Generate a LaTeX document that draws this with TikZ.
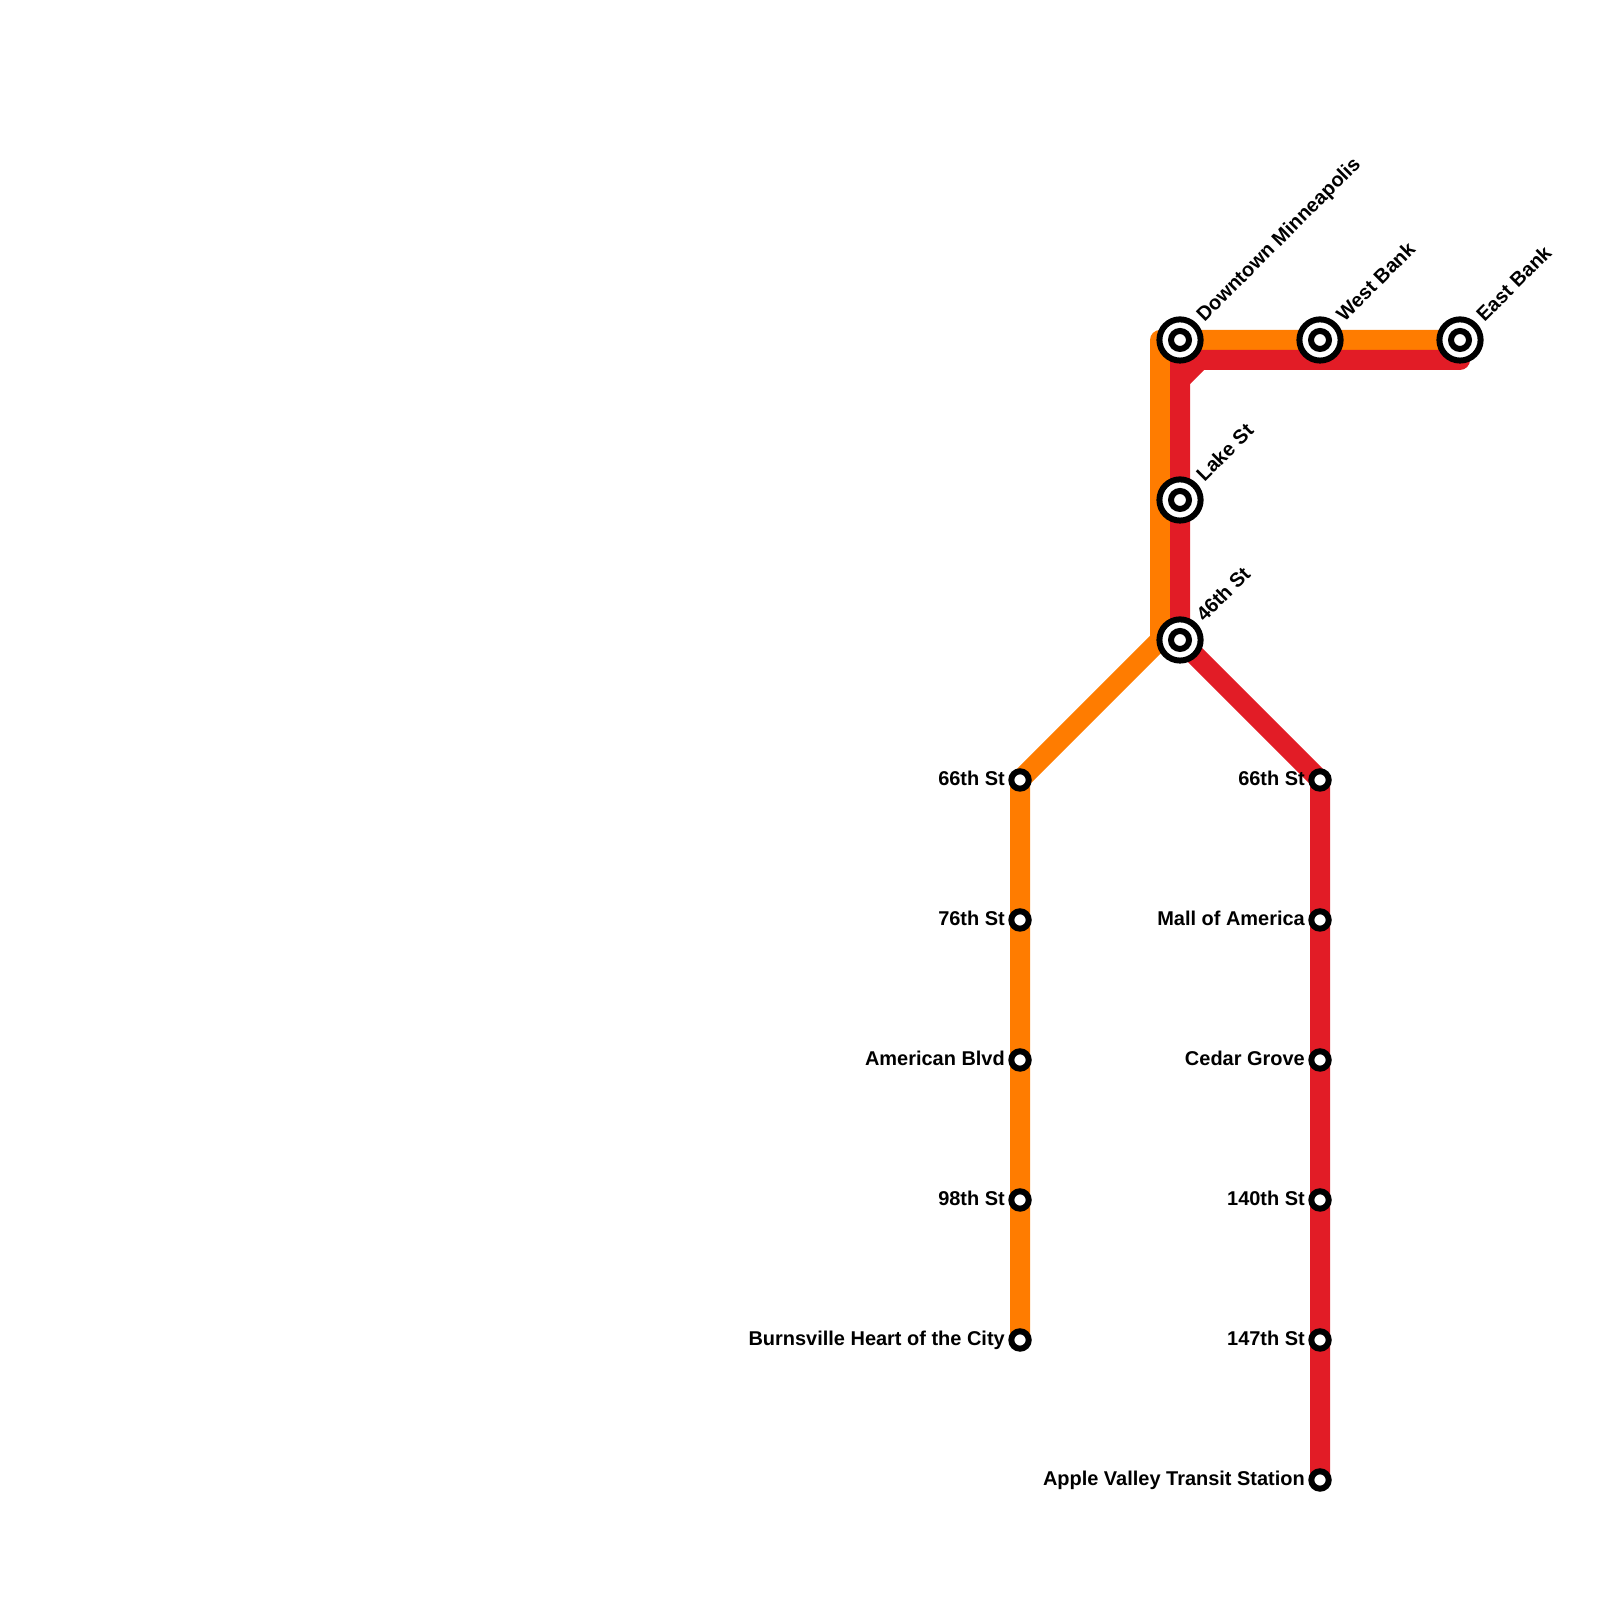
\documentclass[tikz,border=0pt]{standalone}
\usepackage{fontspec}
\setmainfont{Liberation Sans}
\usetikzlibrary{backgrounds}
\definecolor{lineorange}{HTML}{FF7C00}
\definecolor{linered}{HTML}{E21C26}

\begin{document}
\begin{tikzpicture}[
    stop/.style={circle, draw=black, fill=white, line width=0.06cm, inner sep=0pt, minimum size=0.174cm},
    hub/.style={stop, minimum size=0.412cm, path picture={\draw[line width=0.06cm] (path picture bounding box.center) circle (0.09cm);}},
    lname/.style={anchor=base east, inner sep=0pt, font=\fontsize{5.68pt}{6pt}\bfseries},
    rname/.style={anchor=base west, inner sep=0pt, rotate=45, font=\fontsize{5.68pt}{6pt}\bfseries},
    track/.style={line width=0.2cm, line cap=round, line join=round}
]
    \useasboundingbox (0,0) rectangle (16,16);

    % Hubs
    \node[hub] (downtown) at (11.8,12.6) {};
    \node[hub] (westbank) at (13.2,12.6) {};
    \node[hub] (eastbank) at (14.6,12.6) {};
    \node[hub] (lake) at (11.8,11.0) {};
    \node[hub] (st46) at (11.8,9.6) {};

    % Orange stops
    \node[stop] (ost66) at (10.2,8.2) {};
    \node[stop] (ost76) at (10.2,6.8) {};
    \node[stop] (oamerican) at (10.2,5.4) {};
    \node[stop] (ost98) at (10.2,4.0) {};
    \node[stop] (oburnsville) at (10.2,2.6) {};

    % Red stops
    \node[stop] (rst66) at (13.2,8.2) {};
    \node[stop] (rmall) at (13.2,6.8) {};
    \node[stop] (rcedar) at (13.2,5.4) {};
    \node[stop] (rst140) at (13.2,4.0) {};
    \node[stop] (rst147) at (13.2,2.6) {};
    \node[stop] (rapple) at (13.2,1.2) {};

    % Bends
    \coordinate (otop) at (11.6,12.6);
    \coordinate (obase) at (11.6,9.6);
    \coordinate (rend) at (14.6,12.4);
    \coordinate (rcorner) at (11.8,12.4);
    \coordinate (rbendA) at (12.0,12.4);
    \coordinate (rbendB) at (11.8,12.2);

    % Lines
    \begin{scope}[on background layer]
        \draw[track, lineorange] (eastbank.center) -- (westbank.center) -- (downtown.center) -- (otop) -- (obase) -- (ost66.center) -- (ost76.center) -- (oamerican.center) -- (ost98.center) -- (oburnsville.center);
        \draw[track, linered] (rend) -- (rcorner) -- (lake.center) -- (st46.center) -- (rst66.center) -- (rmall.center) -- (rcedar.center) -- (rst140.center) -- (rst147.center) -- (rapple.center);
        \draw[track, linered, line cap=butt] (rbendA) -- (rbendB);
    \end{scope}

    % Names
    \node[rname] (ndowntown) at (12.04,12.77) {Downtown Minneapolis};
    \node[rname] (nwestbank) at (13.44,12.77) {West Bank};
    \node[rname] (neastbank) at (14.84,12.77) {East Bank};
    \node[rname] (nlake) at (12.04,11.17) {Lake St};
    \node[rname] (nst46) at (12.04,9.77) {46th St};

    \node[lname] (nost66) at (10.055,8.14) {66th St};
    \node[lname] (nost76) at (10.055,6.74) {76th St};
    \node[lname] (noamerican) at (10.055,5.34) {American Blvd};
    \node[lname] (nost98) at (10.055,3.94) {98th St};
    \node[lname] (noburnsville) at (10.055,2.54) {Burnsville Heart of the City};

    \node[lname] (nrst66) at (13.055,8.14) {66th St};
    \node[lname] (nrmall) at (13.055,6.74) {Mall of America};
    \node[lname] (nrcedar) at (13.055,5.34) {Cedar Grove};
    \node[lname] (nrst140) at (13.055,3.94) {140th St};
    \node[lname] (nrst147) at (13.055,2.54) {147th St};
    \node[lname] (nrapple) at (13.055,1.14) {Apple Valley Transit Station};
\end{tikzpicture}
\end{document}
